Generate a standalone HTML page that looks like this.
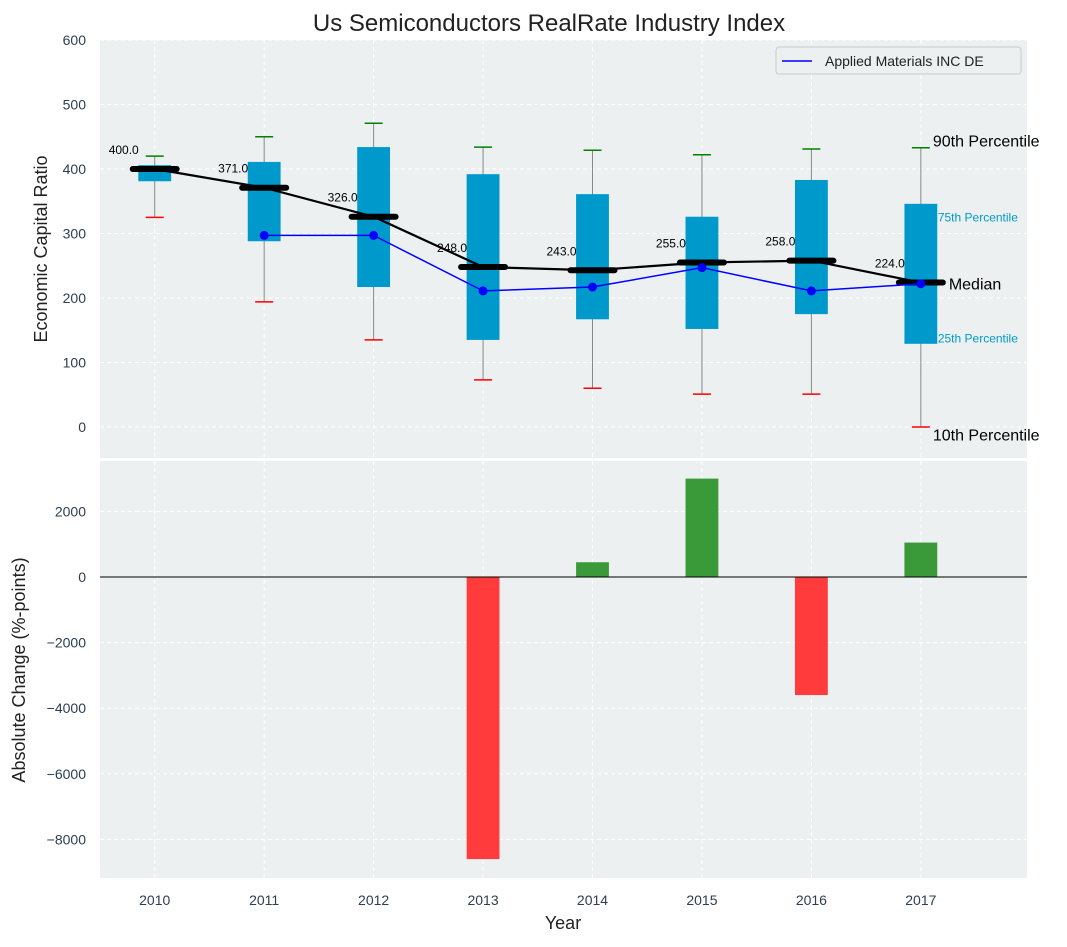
<!DOCTYPE html>
<html><head><meta charset="utf-8"><style>
body{margin:0;background:#fff;font-family:"Liberation Sans","DejaVu Sans",sans-serif}
</style></head><body>
<svg id="chart" width="1067" height="942" xmlns="http://www.w3.org/2000/svg"></svg>
<script>
const years=[2010,2011,2012,2013,2014,2015,2016,2017];
const p10=[325,194,135,73,60,51,51,0];
const p25=[381,288,217,135,167,152,175,129];
const medians=[400,371,326,248,243,255,258,224];
const p75=[406,411,434,392,361,326,383,346];
const p90=[420,450,471,434,429,422,431,433];
const companyYears=[2011,2012,2013,2014,2015,2016,2017];
const companyVals=[297,297,211,217,247,211,222];
const changeYears=[2013,2014,2015,2016,2017];
const changeVals=[-8600,450,3000,-3600,1050];
const topTicks=[0,100,200,300,400,500,600];
const botTicks=[-8000,-6000,-4000,-2000,0,2000];

const NS="http://www.w3.org/2000/svg";
const svg=document.getElementById('chart');
function el(tag,attrs,parent){const e=document.createElementNS(NS,tag);for(const k in attrs)e.setAttribute(k,attrs[k]);(parent||svg).appendChild(e);return e;}
const L=100,R=1027;
const X=v=>L+(v-2009.5)*(R-L)/8.47;
const T0=40,T1=458,Ty=v=>427-v*0.645;
const B0=461,B1=878,By=v=>577-v*65.6/2000;

// backgrounds
let e=el('rect',{x:L,y:T0,width:R-L,height:T1-T0,fill:'#ecf0f1'});

e=el('rect',{x:L,y:B0,width:R-L,height:B1-B0,fill:'#ecf0f1'});


// grids
years.forEach(y=>{
 el('line',{x1:X(y),x2:X(y),y1:T0,y2:T1,stroke:'#fff','stroke-dasharray':'4,3'});
 el('line',{x1:X(y),x2:X(y),y1:B0,y2:B1,stroke:'#fff','stroke-dasharray':'4,3'});
 const t=el('text',{x:X(y),y:905,'text-anchor':'middle','font-size':14,fill:'#2c3e50'});t.textContent=y;
 
});
topTicks.forEach(v=>{
 el('line',{x1:L,x2:R,y1:Ty(v),y2:Ty(v),stroke:'#fff','stroke-dasharray':'4,3'});
 const t=el('text',{x:86,y:Ty(v)+5,'text-anchor':'end','font-size':14,fill:'#2c3e50'});t.textContent=v;
 
});
botTicks.forEach(v=>{
 el('line',{x1:L,x2:R,y1:By(v),y2:By(v),stroke:'#fff','stroke-dasharray':'4,3'});
 const t=el('text',{x:86,y:By(v)+5,'text-anchor':'end','font-size':14,fill:'#2c3e50'});t.textContent=v<0?'\u2212'+(-v):v;
 
});

// boxes
const bw=X(0.15)-X(0);
years.forEach((y,i)=>{
 const cx=X(y);
 e=el('line',{x1:cx,x2:cx,y1:Ty(p10[i]),y2:Ty(p90[i]),stroke:'#888','stroke-width':1});
 
 e=el('rect',{x:cx-bw,y:Ty(p75[i]),width:2*bw,height:Ty(p25[i])-Ty(p75[i]),fill:'#0099cc'});
 
 e=el('line',{x1:cx-9,x2:cx+9,y1:Ty(p90[i]),y2:Ty(p90[i]),stroke:'green','stroke-width':1.5});
 
 e=el('line',{x1:cx-9,x2:cx+9,y1:Ty(p10[i]),y2:Ty(p10[i]),stroke:'red','stroke-width':1.5});
 
});
// median line
e=el('polyline',{points:years.map((y,i)=>X(y)+','+Ty(medians[i])).join(' '),fill:'none',stroke:'#000','stroke-width':2.2});

years.forEach((y,i)=>{
 e=el('line',{x1:X(y)-22,x2:X(y)+22,y1:Ty(medians[i]),y2:Ty(medians[i]),stroke:'#000','stroke-width':6,'stroke-linecap':'round'});
 
 const t=el('text',{x:X(y)-31,y:Ty(medians[i])-15,'text-anchor':'middle','font-size':12,fill:'#000'});t.textContent=medians[i].toFixed(1);
 
});
// company line
e=el('polyline',{points:companyYears.map((y,i)=>X(y)+','+Ty(companyVals[i])).join(' '),fill:'none',stroke:'blue','stroke-width':1.5});

companyYears.forEach((y,i)=>{
 e=el('circle',{cx:X(y),cy:Ty(companyVals[i]),r:4.5,fill:'blue'});
 
});
// annotations
const ax=X(2017);
[['90th Percentile',ax+12,p90[7]+10,16,'#000'],['75th Percentile',ax+17,p75[7]-20,12,'#0099cc'],['Median',ax+28,medians[7]-3,16,'#000'],['25th Percentile',ax+17,p25[7]+10,12,'#0099cc'],['10th Percentile',ax+12,p10[7]-13,16,'#000']].forEach(a=>{
 const t=el('text',{x:a[1],y:Ty(a[2])+5,'font-size':a[3],fill:a[4]});t.textContent=a[0];
 
});
// bars
changeYears.forEach((y,i)=>{
 const v=changeVals[i];
 e=el('rect',{x:X(y)-bw,width:2*bw,y:Math.min(By(0),By(v)),height:Math.abs(By(v)-By(0)),fill:v<0?'#ff3b3b':'#3a9a3a'});
 
});
el('line',{x1:L,x2:R,y1:By(0),y2:By(0),stroke:'#000','stroke-width':1});

// legend
const lg=el('g',{});
el('rect',{x:776,y:47,width:245,height:27,fill:'#ecf0f1',stroke:'#ccc',rx:3},lg);
el('line',{x1:782,x2:812,y1:61,y2:61,stroke:'blue','stroke-width':1.5},lg);
let t=el('text',{x:825,y:66,'font-size':14,fill:'#222'},lg);t.textContent='Applied Materials INC DE';

t=el('text',{x:549,y:31,'text-anchor':'middle','font-size':24,fill:'#222'});t.textContent='Us Semiconductors RealRate Industry Index';

t=el('text',{x:0,y:0,'text-anchor':'middle','font-size':18,fill:'#222',transform:'translate(47,249) rotate(-90)'});t.textContent='Economic Capital Ratio';

t=el('text',{x:0,y:0,'text-anchor':'middle','font-size':18,fill:'#222',transform:'translate(25,670) rotate(-90)'});t.textContent='Absolute Change (%-points)';

t=el('text',{x:563,y:929,'text-anchor':'middle','font-size':18,fill:'#222'});t.textContent='Year';

</script>
</body></html>
